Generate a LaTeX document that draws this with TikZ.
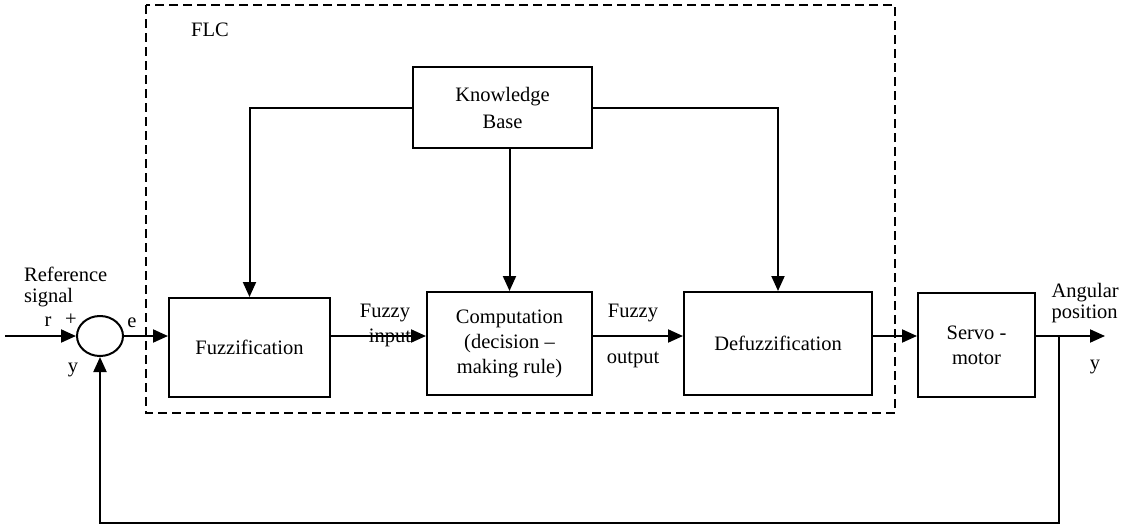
\documentclass[tikz,border=0pt]{standalone}
\usepackage{fontspec}
\setmainfont{Liberation Serif}
\usetikzlibrary{shapes,arrows.meta,positioning,calc}

\tikzset{
    block/.style={draw, line width=2pt, align=center, inner sep=0pt,
        font=\fontsize{20.5}{25}\selectfont},
    flow/.style={line width=2pt, -{Triangle[length=15pt,width=13pt]}},
    lbl/.style={inner sep=0pt, align=center, font=\fontsize{20.5}{21}\selectfont}
}

\begin{document}
\begin{tikzpicture}[x=1pt, y=-1pt]
    \useasboundingbox (0,0) rectangle (1121,525);
    % FLC frame
    \draw[line width=1.5pt, dash pattern=on 9pt off 5pt] (146,5) rectangle (895,413);
    \node[lbl] (flc) at (210,30) {FLC};
    % Blocks
    \node[block, minimum width=179pt, minimum height=81pt] (kb) at (502.5,107.5) {Knowledge\\[2pt]Base};
    \node[block, minimum width=161pt, minimum height=99pt] (fuzz) at (249.5,347.5) {Fuzzification};
    \node[block, minimum width=165pt, minimum height=103pt] (comp) at (509.5,343.5) {Computation\\(decision --\\making rule)};
    \node[block, minimum width=188pt, minimum height=103pt] (defuzz) at (778,343.5) {Defuzzification};
    \node[block, minimum width=117pt, minimum height=104pt] (servo) at (976.5,345) {Servo -\\motor};
    \node[draw, ellipse, line width=2pt, minimum width=46pt, minimum height=40pt, inner sep=0pt] (sum) at (100,336) {};
    % Signal path
    \coordinate (in) at (5,336);
    \coordinate (out) at (1105,336);
    \coordinate (tap) at (1059,336);
    \coordinate (fb) at (1059,523);
    \draw[flow] (in) -- (sum.west);
    \draw[flow] (sum.east) -- (sum -| fuzz.west);
    \draw[flow] (sum -| fuzz.east) -- (sum -| comp.west);
    \draw[flow] (sum -| comp.east) -- (sum -| defuzz.west);
    \draw[flow] (sum -| defuzz.east) -- (sum -| servo.west);
    \draw[flow] (sum -| servo.east) -- (out);
    % Feedback
    \draw[flow] (tap) -- (fb) -| (sum.south);
    % Knowledge base links
    \draw[flow] (kb.west) -| (fuzz.north);
    \draw[flow] (kb.east) -| (defuzz.north);
    \draw[flow] (comp.north |- kb.south) -- (comp.north);
    % Labels
    \node[lbl, align=left, anchor=west] (ref) at (24,287) {Reference\\signal};
    \node[lbl] (r) at (48,322) {r};
    \node[lbl] (plus) at (71,320) {+};
    \node[lbl] (e) at (132,323) {e};
    \node[lbl] (yin) at (73,370) {y};
    \node[lbl] (fin) at (385,313) {Fuzzy};
    \node[lbl] (fin2) at (390,338) {input};
    \node[lbl] (fout) at (633,313) {Fuzzy};
    \node[lbl] (fout2) at (633,360) {output};
    \node[lbl, align=left, anchor=east] (ang) at (1119,303) {Angular\\position};
    \node[lbl] (yout) at (1095,367) {y};
\end{tikzpicture}
\end{document}
